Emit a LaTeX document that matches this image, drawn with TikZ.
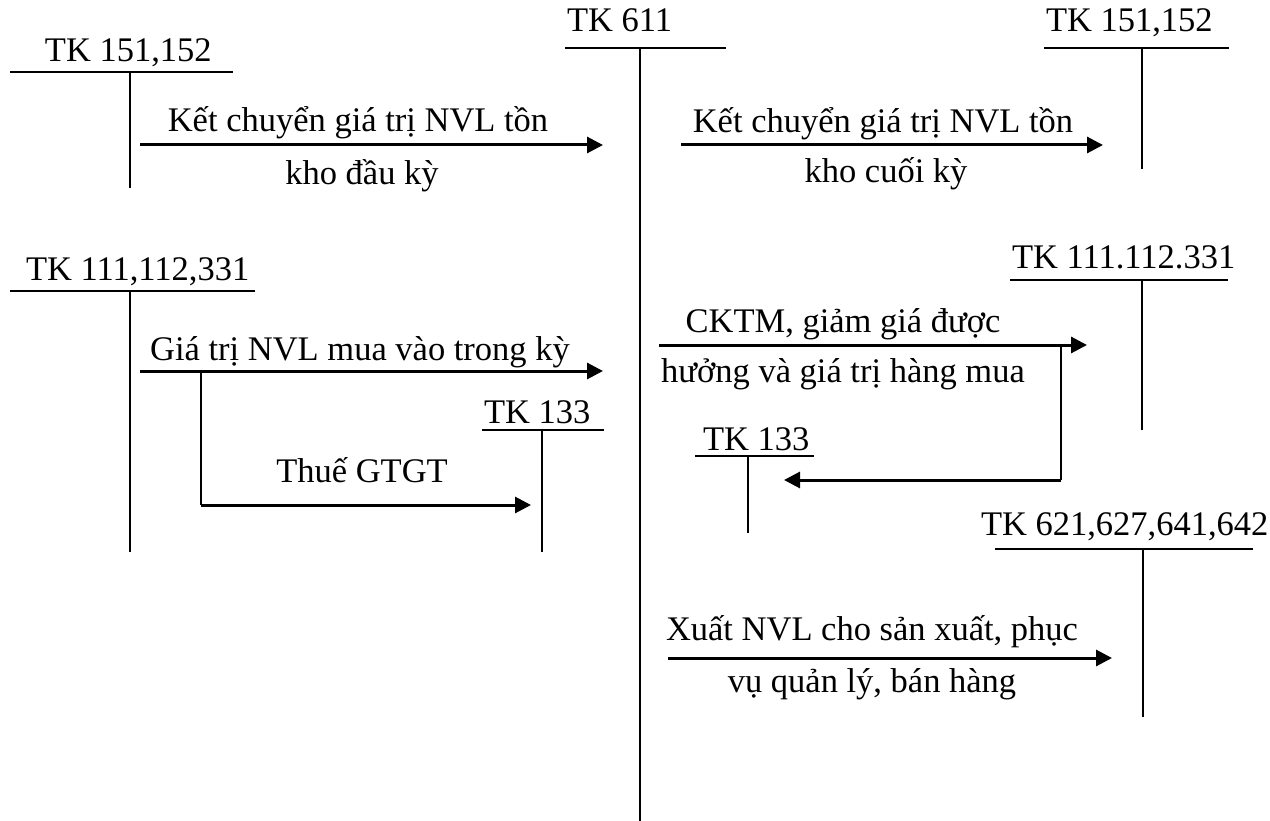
\documentclass[tikz,border=0pt]{standalone}
\usepackage{fontspec}
\setmainfont{Liberation Serif}
\usetikzlibrary{arrows.meta}
\begin{document}
\begin{tikzpicture}[x=1pt,y=-1pt,
  every node/.style={font=\fontsize{34.5}{40}\selectfont, inner sep=0pt, outer sep=0pt},
  lab/.style={anchor=base},
  acct/.style={anchor=base west},
  tline/.style={line width=2pt},
  flow/.style={line width=3pt, -{Triangle[length=16pt,width=16pt]}},
  branch/.style={line width=2.2pt}
]
\fill[white] (0,0) rectangle (1270,821);
\useasboundingbox (0,0) rectangle (1270,821);

% ---------- T accounts ----------
% left TK 151,152
\node[acct] (tA) at (45,62) {TK 151,152};
\coordinate (tAl) at (10,72); \coordinate (tAr) at (233,72);
\coordinate (tAt) at (130,72); \coordinate (tAb) at (130,188);
\draw[tline] (tAl) -- (tAr); \draw[tline] (tAt) -- (tAb);

% TK 611
\node[acct] (tM) at (567,32) {TK 611};
\coordinate (tMl) at (565,48); \coordinate (tMr) at (726,48);
\coordinate (tMt) at (640,48); \coordinate (tMb) at (640,821);
\draw[tline] (tMl) -- (tMr); \draw[tline] (tMt) -- (tMb);

% right TK 151,152
\node[acct] (tB) at (1046,32) {TK 151,152};
\coordinate (tBl) at (1044,48); \coordinate (tBr) at (1229,48);
\coordinate (tBt) at (1142,48); \coordinate (tBb) at (1142,169);
\draw[tline] (tBl) -- (tBr); \draw[tline] (tBt) -- (tBb);

% left TK 111,112,331
\node[acct] (tC) at (26,281) {TK 111,112,331};
\coordinate (tCl) at (10,291); \coordinate (tCr) at (255,291);
\coordinate (tCt) at (130,291); \coordinate (tCb) at (130,552);
\draw[tline] (tCl) -- (tCr); \draw[tline] (tCt) -- (tCb);

% left TK 133
\node[acct] (tD) at (484,423) {TK 133};
\coordinate (tDl) at (482,430); \coordinate (tDr) at (604,430);
\coordinate (tDt) at (542,430); \coordinate (tDb) at (542,552);
\draw[tline] (tDl) -- (tDr); \draw[tline] (tDt) -- (tDb);

% right TK 111.112.331 (text clipped at baseline)
\begin{scope}
\clip (990,220) rectangle (1270,269);
\node[acct] (tE) at (1012,269) {TK 111.112.331};
\end{scope}
\coordinate (tEl) at (1010,280); \coordinate (tEr) at (1228,280);
\coordinate (tEt) at (1142,280); \coordinate (tEb) at (1142,430);
\draw[tline] (tEl) -- (tEr); \draw[tline] (tEt) -- (tEb);

% right TK 133
\node[acct] (tF) at (703,450) {TK 133};
\coordinate (tFl) at (695,456); \coordinate (tFr) at (814,456);
\coordinate (tFt) at (748,456); \coordinate (tFb) at (748,533);
\draw[tline] (tFl) -- (tFr); \draw[tline] (tFt) -- (tFb);

% right TK 621,627,641,642
\node[acct] (tG) at (981,535) {TK 621,627,641,642};
\coordinate (tGl) at (995,549); \coordinate (tGr) at (1253,549);
\coordinate (tGt) at (1143,549); \coordinate (tGb) at (1143,717);
\draw[tline] (tGl) -- (tGr); \draw[tline] (tGt) -- (tGb);

% ---------- flows ----------
% 1
\coordinate (f1s) at (140,145); \coordinate (f1e) at (603,145);
\draw[flow] (f1s) -- (f1e);
\node[lab] (l1a) at (358,132) {Kết chuyển giá trị NVL tồn};
\node[lab] (l1b) at (362,185) {kho đầu kỳ};

% 2
\coordinate (f2s) at (681,145); \coordinate (f2e) at (1103,145);
\draw[flow] (f2s) -- (f2e);
\node[lab] (l2a) at (883,133) {Kết chuyển giá trị NVL tồn};
\node[lab] (l2b) at (886,183) {kho cuối kỳ};

% 3
\coordinate (f3s) at (140,371); \coordinate (f3e) at (603,371);
\draw[flow] (f3s) -- (f3e);
\node[lab] (l3a) at (360,360) {Giá trị NVL mua vào trong kỳ};
\coordinate (b3s) at (201,371); \coordinate (b3c) at (201,505); \coordinate (b3e) at (531,505);
\draw[branch] (b3s) -- (b3c);
\draw[flow] (b3c) -- (b3e);
\node[lab] (l3b) at (362,482) {Thuế GTGT};

% 4
\coordinate (f4s) at (659,345); \coordinate (f4e) at (1087,345);
\draw[flow] (f4s) -- (f4e);
\node[lab] (l4a) at (843,332) {CKTM, giảm giá được};
\node[lab] (l4b) at (843,382) {hưởng và giá trị hàng mua};
\coordinate (b4s) at (1061,345); \coordinate (b4c) at (1061,480); \coordinate (b4e) at (784,480);
\draw[branch] (b4s) -- (b4c);
\draw[flow] (b4c) -- (b4e);

% 5
\coordinate (f5s) at (668,658); \coordinate (f5e) at (1112,658);
\draw[flow] (f5s) -- (f5e);
\node[lab] (l5a) at (872,640) {Xuất NVL cho sản xuất, phục};
\node[lab] (l5b) at (872,692) {vụ quản lý, bán hàng};
\end{tikzpicture}
\end{document}
